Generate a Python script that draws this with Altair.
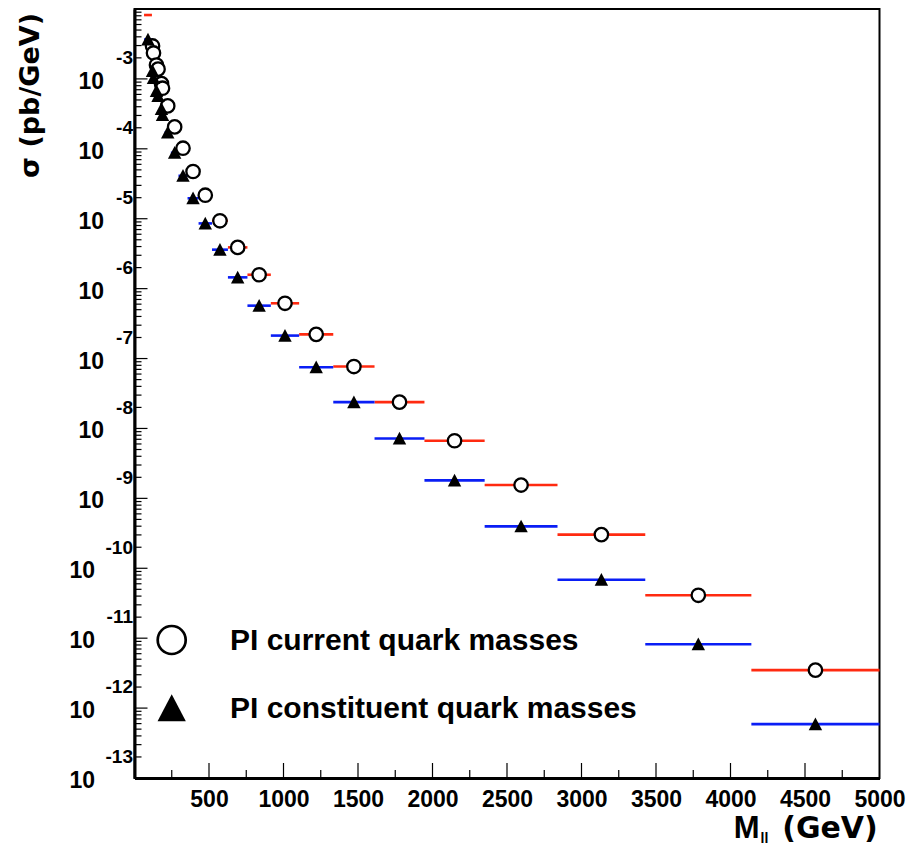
import altair as alt
import pandas as pd

# ---------------- data ----------------
# mass bins (GeV)
bin_low = [64, 117, 125, 139, 156, 176, 186, 202, 244, 295, 356, 430, 520, 627, 758, 915,
           1105, 1334, 1611, 1946, 2350, 2839, 3428, 4140]
bin_high = [117, 125, 130, 156, 160, 186, 190, 244, 295, 356, 430, 520, 627, 758, 915, 1105,
            1334, 1611, 1946, 2350, 2839, 3428, 4140, 5000]
# cross sections (pb/GeV)
sigma_current = [8.2e-3, 2.96e-3, 2.35e-3, 1.58e-3, 1.38e-3, 8.57e-4, 7.36e-4,
                 4.11e-4, 2.06e-4, 1.02e-4, 4.74e-5, 2.17e-5, 9.35e-6, 3.89e-6,
                 1.58e-6, 6.17e-7, 2.22e-7, 7.69e-8, 2.38e-8, 6.67e-9, 1.55e-9,
                 3.03e-10, 4.11e-11, 3.49e-12]
sigma_constituent = [3.66e-3, 1.30e-3, 1.03e-3, 6.74e-4, 5.71e-4, 3.73e-4, 3.06e-4,
                     1.71e-4, 8.77e-5, 4.11e-5, 1.96e-5, 8.57e-6, 3.61e-6, 1.45e-6,
                     5.71e-7, 2.13e-7, 7.52e-8, 2.38e-8, 7.2e-9, 1.81e-9, 3.98e-10,
                     6.85e-11, 8.2e-12, 5.9e-13]
# in the first bin the open-circle marker is not drawn, only its bar
current_marker_drawn = [False] + [True] * 23

x_tick_labels = [500, 1000, 1500, 2000, 2500, 3000, 3500, 4000, 4500, 5000]
y_decades = [-3, -4, -5, -6, -7, -8, -9, -10, -11, -12, -13]
legend_labels = ["PI current quark masses", "PI constituent quark masses"]
x_title = ["M", "ll", "(GeV)"]
y_title = "σ (pb/GeV)"

# ---------------- tables ----------------
df = pd.DataFrame({
    "lo": bin_low, "hi": bin_high,
    "cur": sigma_current, "con": sigma_constituent,
    "drawn": current_marker_drawn,
})
df["mid"] = (df["lo"] + df["hi"]) / 2.0

dec = pd.DataFrame({"e": y_decades})
dec["v"] = [10.0 ** e for e in y_decades]
dec["ten"] = "10"
dec["exp"] = [str(e) for e in y_decades]

ytk = []
for e in range(-13, -2):
    for k in range(1, 10):
        v = k * 10.0 ** e
        if v <= 1.0001e-2:
            ytk.append({"v": v, "major": k == 1})
ytk = pd.DataFrame(ytk)
xtk = pd.DataFrame({"v": list(range(250, 5000, 250))})
xtk["major"] = xtk["v"] % 500 == 0

W, H = 745, 769
FONT = "Liberation Sans"
RED = "#ff2a10"
BLUE = "#0a1ef5"
TRI = "M0,-1L1,0.9L-1,0.9Z"

xs = alt.Scale(domain=[0, 5000], nice=False, zero=False)
ys = alt.Scale(type="log", domain=[1e-13, 1e-2], nice=False)

base = alt.Chart(df)

red = base.mark_rule(color=RED, strokeWidth=2.6).encode(
    x=alt.X("lo:Q", scale=xs, axis=alt.Axis(values=x_tick_labels, ticks=False, grid=False,
            domainColor="black", domainWidth=3, labelFont=FONT, labelFontWeight="bold",
            labelFontSize=23, labelColor="black", labelPadding=10, labelFlush=False,
            labelOverlap=False, title=None, format="d")),
    x2="hi:Q",
    y=alt.Y("cur:Q", scale=ys, axis=alt.Axis(labels=False, ticks=False, grid=False,
            domainColor="black", domainWidth=3, title=None)),
)
blue = base.mark_rule(color=BLUE, strokeWidth=2.6).encode(
    x=alt.X("lo:Q", scale=xs), x2="hi:Q", y=alt.Y("con:Q", scale=ys))
circles = base.transform_filter("datum.drawn").mark_point(
    shape="circle", size=180, filled=False, fill="white", fillOpacity=1,
    stroke="black", strokeWidth=2.3, opacity=1).encode(
    x=alt.X("mid:Q", scale=xs), y=alt.Y("cur:Q", scale=ys))
tris = base.mark_point(shape=TRI, size=180, filled=True, color="black", opacity=1,
                       strokeWidth=0).encode(
    x=alt.X("mid:Q", scale=xs), y=alt.Y("con:Q", scale=ys))

# axis ticks drawn inside the frame (as in the reference)
ytick_major = alt.Chart(ytk).transform_filter("datum.major").mark_rule(
    color="black", strokeWidth=1.2).encode(
    y=alt.Y("v:Q", scale=ys), x=alt.value(0), x2=alt.value(13))
ytick_minor = alt.Chart(ytk).transform_filter("!datum.major").mark_rule(
    color="black", strokeWidth=1.2).encode(
    y=alt.Y("v:Q", scale=ys), x=alt.value(0), x2=alt.value(7))
xtick_major = alt.Chart(xtk).transform_filter("datum.major").mark_rule(
    color="black", strokeWidth=1.2).encode(
    x=alt.X("v:Q", scale=xs), y=alt.value(H), y2=alt.value(H - 15))
xtick_minor = alt.Chart(xtk).transform_filter("!datum.major").mark_rule(
    color="black", strokeWidth=1.2).encode(
    x=alt.X("v:Q", scale=xs), y=alt.value(H), y2=alt.value(H - 8))

# y labels 10^n
ten1 = alt.Chart(dec).transform_filter("datum.e >= -9").mark_text(
    font=FONT, fontWeight="bold", fontSize=23, align="right", baseline="alphabetic",
    dy=10, color="black").encode(
    y=alt.Y("v:Q", scale=ys), x=alt.value(-30.5), text="ten:N")
ten2 = alt.Chart(dec).transform_filter("datum.e < -9").mark_text(
    font=FONT, fontWeight="bold", fontSize=23, align="right", baseline="alphabetic",
    dy=10, color="black").encode(
    y=alt.Y("v:Q", scale=ys), x=alt.value(-39.5), text="ten:N")
expo = alt.Chart(dec).mark_text(
    font=FONT, fontWeight="bold", fontSize=19, align="right", baseline="alphabetic",
    dy=-14.7, color="black").encode(
    y=alt.Y("v:Q", scale=ys), x=alt.value(-1.5), text="exp:N")

# axis titles
tdf = pd.DataFrame({"t": [y_title]})
ytitle = alt.Chart(tdf).mark_text(
    font="DejaVu Sans", fontWeight="bold", fontSize=27, angle=270, align="right",
    baseline="alphabetic", color="black").encode(
    x=alt.value(-96), y=alt.value(4), text="t:N")
xt = pd.DataFrame({"t": x_title})
xtitle_m = alt.Chart(xt).transform_filter("datum.t == 'M'").mark_text(
    font=FONT, fontWeight="bold", fontSize=31, align="right", baseline="alphabetic",
    color="black").encode(x=alt.value(625), y=alt.value(829), text="t:N")
xtitle_ll = alt.Chart(xt).transform_filter("datum.t == 'll'").mark_text(
    font=FONT, fontWeight="bold", fontSize=14, align="left", baseline="alphabetic",
    color="black").encode(x=alt.value(626), y=alt.value(834), text="t:N")
xtitle_u = alt.Chart(xt).transform_filter("datum.t == '(GeV)'").mark_text(
    font="DejaVu Sans", fontWeight="bold", fontSize=30, align="center", baseline="alphabetic",
    color="black").encode(x=alt.value(695.5), y=alt.value(829), text="t:N")

# legend (drawn inside the frame, lower left)
ld = pd.DataFrame({"label": legend_labels})
leg_circle = alt.Chart(ld).transform_filter(
    alt.datum.label == legend_labels[0]).mark_point(
    shape="circle", size=784, filled=False, fill="white", fillOpacity=1,
    stroke="black", strokeWidth=2.7, opacity=1).encode(x=alt.value(37.2), y=alt.value(631))
leg_tri = alt.Chart(ld).transform_filter(
    alt.datum.label == legend_labels[1]).mark_point(
    shape=TRI, size=800, filled=True, color="black", opacity=1, strokeWidth=0).encode(
    x=alt.value(37.2), y=alt.value(699.5))
leg_t1 = alt.Chart(ld).transform_filter(alt.datum.label == legend_labels[0]).mark_text(
    font=FONT, fontWeight="bold", fontSize=30, align="left", baseline="alphabetic",
    color="black").encode(x=alt.value(95.5), y=alt.value(641), text="label:N")
leg_t2 = alt.Chart(ld).transform_filter(alt.datum.label == legend_labels[1]).mark_text(
    font=FONT, fontWeight="bold", fontSize=30, align="left", baseline="alphabetic",
    color="black").encode(x=alt.value(95.5), y=alt.value(709), text="label:N")

chart = alt.layer(
    red, blue, circles, tris,
    ytick_major, ytick_minor, xtick_major, xtick_minor,
    ten1, ten2, expo, ytitle, xtitle_m, xtitle_ll, xtitle_u,
    leg_circle, leg_tri, leg_t1, leg_t2,
).properties(
    width=W, height=H,
    autosize=alt.AutoSizeParams(type="none"),
    padding={"left": 126.5, "top": 1, "right": 30, "bottom": 70},
).configure_view(stroke="black", strokeWidth=2)

chart.save("out.html", embed_options={"renderer": "svg", "actions": False})
